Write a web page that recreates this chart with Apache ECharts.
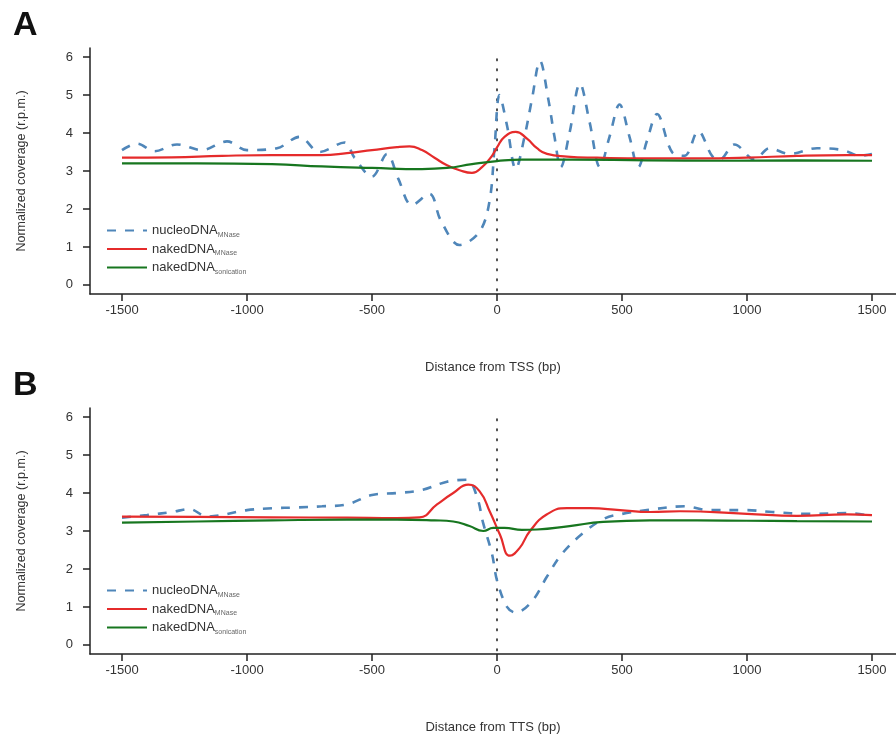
<!DOCTYPE html>
<html>
<head>
<meta charset="utf-8">
<script src="https://cdn.jsdelivr.net/npm/echarts@6/dist/echarts.min.js"></script>
<style>
html,body{margin:0;padding:0;background:#fff;}
#chart{width:896px;height:737px;}
</style>
</head>
<body>
<div id="chart"></div>
<script>
// ---------- data ----------
const xTicks = [-1500, -1000, -500, 0, 500, 1000, 1500];
const yTicks = [0, 1, 2, 3, 4, 5, 6];
const seriesNames = ['nucleoDNA_MNase', 'nakedDNA_MNase', 'nakedDNA_sonication'];

// Panel A (TSS)
const xNucleoA = [-1500,-1440,-1370,-1280,-1180,-1080,-1000,-880,-790,-710,-610,-570,-500,-440,-395,-340,-270,-225,-150,-70,-30,-10,10,40,75,110,140,172,205,230,255,290,332,370,412,450,490,530,565,600,640,700,750,805,860,890,950,1030,1090,1170,1280,1385,1450,1500];
const yNucleoA = [3.55,3.72,3.52,3.7,3.55,3.78,3.55,3.6,3.9,3.5,3.75,3.35,2.85,3.45,2.8,2.1,2.4,1.7,1.05,1.4,2.2,3.6,5.0,4.2,3.05,3.9,4.9,5.9,4.9,3.9,3.1,4.0,5.3,4.3,3.1,3.9,4.75,3.9,3.1,3.8,4.5,3.5,3.4,4.05,3.4,3.3,3.7,3.3,3.6,3.45,3.6,3.55,3.4,3.45];
const xNakedMA = [-1500,-1300,-1100,-900,-700,-600,-500,-400,-350,-300,-250,-200,-150,-100,-60,-20,0,30,75,120,160,200,280,400,600,800,1000,1200,1400,1500];
const yNakedMA = [3.35,3.36,3.4,3.42,3.42,3.47,3.55,3.63,3.65,3.55,3.35,3.15,3.02,2.95,3.1,3.4,3.62,3.9,4.03,3.85,3.6,3.45,3.38,3.35,3.33,3.33,3.35,3.4,3.42,3.42];
const xNakedSA = [-1500,-1200,-900,-700,-500,-300,-200,-100,0,100,300,600,900,1200,1500];
const yNakedSA = [3.2,3.2,3.18,3.12,3.08,3.05,3.08,3.18,3.26,3.3,3.3,3.28,3.27,3.28,3.27];

// Panel B (TTS)
const xNucleoB = [-1500,-1400,-1300,-1230,-1160,-1000,-900,-800,-700,-600,-500,-400,-300,-200,-120,-80,-55,-20,0,40,75,140,200,260,345,430,500,600,750,850,1000,1100,1250,1400,1500];
const yNucleoB = [3.35,3.42,3.5,3.58,3.38,3.55,3.6,3.62,3.65,3.7,3.95,4.0,4.08,4.3,4.35,3.9,3.2,2.4,1.7,1.0,0.85,1.15,1.8,2.4,2.95,3.33,3.45,3.55,3.65,3.55,3.55,3.5,3.45,3.47,3.4];
const xNakedMB = [-1500,-1200,-900,-600,-400,-310,-240,-175,-115,-70,-28,12,52,90,132,200,280,372,492,612,732,1000,1200,1400,1500];
const yNakedMB = [3.38,3.37,3.36,3.35,3.34,3.36,3.7,4.0,4.22,4.05,3.5,2.9,2.35,2.55,3.0,3.44,3.6,3.6,3.55,3.5,3.52,3.45,3.4,3.44,3.42];
const xNakedSB = [-1500,-1200,-900,-600,-400,-250,-175,-110,-55,-15,30,100,160,290,425,612,800,1000,1200,1500];
const yNakedSB = [3.22,3.25,3.28,3.3,3.3,3.28,3.25,3.13,3.0,3.08,3.08,3.03,3.04,3.13,3.24,3.28,3.28,3.27,3.26,3.25];

const tssLine = [[0, -0.15], [0, 5.95]];

// ---------- styling ----------
const FONT = 'Liberation Sans, Arial, sans-serif';
const BLUE = '#4f86b9', RED = '#e52b2b', GREEN = '#17761f';
const pairs = (xs, ys) => xs.map((x, i) => [x, ys[i]]);

function axesFor(gi, xTitle) {
  return {
    x: {
      type: 'value', gridIndex: gi, min: -1628, max: 1596,
      name: xTitle, nameLocation: 'middle', nameGap: 67,
      nameTextStyle: { fontFamily: FONT, fontSize: 13, color: '#333' },
      axisLine: { show: true, onZero: false, lineStyle: { color: '#222', width: 1.5 } },
      axisTick: { show: true, length: 7, customValues: xTicks, lineStyle: { color: '#222', width: 1.5 } },
      axisLabel: { customValues: xTicks, margin: 10, fontFamily: FONT, fontSize: 13, color: '#333',
        formatter: v => String(v) },
      splitLine: { show: false }
    },
    y: {
      type: 'value', gridIndex: gi, min: -0.24, max: 6.24,
      name: 'Normalized coverage (r.p.m.)', nameLocation: 'middle', nameGap: 62,
      nameTextStyle: { fontFamily: FONT, fontSize: 12.5, color: '#333' },
      axisLine: { show: true, onZero: false, lineStyle: { color: '#222', width: 1.5 } },
      axisTick: { show: true, length: 7, customValues: yTicks, lineStyle: { color: '#222', width: 1.5 } },
      axisLabel: { customValues: yTicks, margin: 17, fontFamily: FONT, fontSize: 13, color: '#333',
        formatter: v => String(v) },
      splitLine: { show: false }
    }
  };
}
const aA = axesFor(0, 'Distance from TSS (bp)');
const aB = axesFor(1, 'Distance from TTS (bp)');

function panelSeries(idx, nx, ny, mx, my, sx, sy) {
  return [
    { name: seriesNames[0], type: 'line', xAxisIndex: idx, yAxisIndex: idx, data: pairs(nx, ny),
      smooth: 0.35, symbol: 'none', lineStyle: { color: BLUE, width: 2.6, type: [9, 9] }, itemStyle: { color: BLUE }, z: 2 },
    { name: seriesNames[1], type: 'line', xAxisIndex: idx, yAxisIndex: idx, data: pairs(mx, my),
      smooth: 0.5, symbol: 'none', lineStyle: { color: RED, width: 2.2 }, itemStyle: { color: RED }, z: 3 },
    { name: seriesNames[2], type: 'line', xAxisIndex: idx, yAxisIndex: idx, data: pairs(sx, sy),
      smooth: 0.5, symbol: 'none', lineStyle: { color: GREEN, width: 2.2 }, itemStyle: { color: GREEN }, z: 4 },
    { name: 'tss', type: 'line', xAxisIndex: idx, yAxisIndex: idx, data: tssLine, symbol: 'none',
      lineStyle: { color: '#222', width: 1.6, type: [1.6, 8.4], cap: 'round' }, z: 1, silent: true }
  ];
}

const legendRich = {
  m: { fontFamily: FONT, fontSize: 13, color: '#333', lineHeight: 16 },
  s: { fontFamily: FONT, fontSize: 7, color: '#666', lineHeight: 10, verticalAlign: 'bottom', padding: [6, 0, 0, 0] }
};
function legendFormatter(name) {
  const parts = name.split('_');
  return '{m|' + parts[0] + '}{s|' + parts[1] + '}';
}
function legendAt(top) {
  return {
    data: seriesNames, orient: 'vertical', left: 101, top: top, itemWidth: 40, itemHeight: 10, itemGap: 4,
    itemStyle: { opacity: 0, borderWidth: 0 },
    formatter: legendFormatter, textStyle: { rich: legendRich }, selectedMode: false
  };
}

const option = {
  animation: false,
  backgroundColor: '#fff',
  grid: [
    { left: 90, right: 0, top: 48, height: 246 },
    { left: 90, right: 0, top: 408, height: 246 }
  ],
  xAxis: [aA.x, aB.x],
  yAxis: [aA.y, aB.y],
  legend: [legendAt(219), legendAt(579)],
  graphic: [
    { type: 'text', left: 13, top: 9, style: { text: 'A', font: 'bold 34px ' + FONT, fill: '#111' } },
    { type: 'text', left: 13, top: 369, style: { text: 'B', font: 'bold 34px ' + FONT, fill: '#111' } }
  ],
  series: [
    ...panelSeries(0, xNucleoA, yNucleoA, xNakedMA, yNakedMA, xNakedSA, yNakedSA),
    ...panelSeries(1, xNucleoB, yNucleoB, xNakedMB, yNakedMB, xNakedSB, yNakedSB)
  ]
};

const chart = echarts.init(document.getElementById('chart'), null, { renderer: 'canvas' });
chart.setOption(option);
</script>
</body>
</html>
